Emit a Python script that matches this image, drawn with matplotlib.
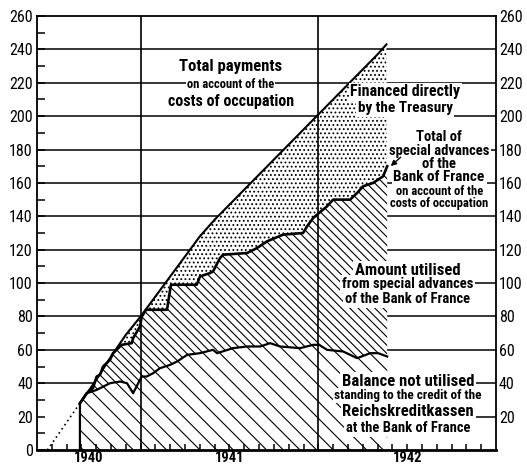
import numpy as np
import matplotlib
matplotlib.use("Agg")
import matplotlib.pyplot as plt
from matplotlib import font_manager

# pick a narrow face if one is installed, else plain Liberation Sans
names = set(f.name for f in font_manager.fontManager.ttflist)
narrow = 'Liberation Sans'
for cand in ['Liberation Sans Narrow', 'Roboto Condensed', 'DejaVu Sans Condensed',
             'Open Sans Condensed', 'Noto Sans Condensed']:
    if cand in names:
        narrow = cand
        break
stretch = 'normal'
if narrow == 'Liberation Sans':
    for f in font_manager.fontManager.ttflist:
        if f.name in ('DejaVu Sans', 'Noto Sans', 'Roboto', 'Open Sans') and \
                f.stretch in ('condensed', 'semi-condensed', 'extra-condensed'):
            narrow = f.name
            stretch = f.stretch
            break

plt.rcParams['hatch.linewidth'] = 0.8
plt.rcParams['font.family'] = [narrow, 'DejaVu Sans']
plt.rcParams['font.stretch'] = stretch

# x = months since 1 Jan 1940, y = milliards of francs
total_x = [7.9, 9.0, 10.0, 11.0, 12.0, 13.0, 14.0, 15.0, 16.0, 17.0, 18.0,
           19.0, 20.0, 21.0, 22.0, 23.0, 24.0, 25.0, 26.0, 27.0, 28.0, 28.6]
total_y = [28, 42, 56, 69, 80, 92, 104, 116, 128, 138, 147,
           156, 165, 174, 183, 192, 201, 210, 219, 228, 237, 243]

# dotted extension of the total line back to zero
extra_x = [5.7, 7.9]
extra_y = [0, 28]

adv_x = [7.9, 8.36, 8.78, 9.03, 9.26, 9.46, 9.93, 10.14, 10.72, 11.4, 11.49,
         11.96, 12.07, 12.16, 12.36, 13.78, 13.99, 14.05, 15.79, 16.01, 16.69,
         16.89, 17.36, 17.57, 19.19, 19.86, 20.54, 21.62, 22.97, 23.24, 23.65,
         24.05, 24.59, 25.0, 26.15, 26.62, 27.03, 27.7, 28.38, 28.65]
adv_y = [28, 34, 37, 44, 45, 50, 54, 58, 63, 64, 67,
         74, 80, 81, 84, 84, 96, 99, 99, 104, 106,
         107, 115, 117, 118, 121, 125, 129, 130, 134, 139,
         142, 146, 150, 150, 154, 158, 160, 164, 170]

bal_x = [7.9, 8.36, 9.03, 9.93, 10.61, 11.08, 11.49, 12.07, 12.41, 12.84, 13.31,
         13.99, 14.46, 15.14, 16.01, 16.89, 17.16, 18.24, 19.19, 20.07, 20.74,
         21.42, 22.77, 23.65, 24.05, 24.59, 25.68, 26.62, 27.5, 28.04, 28.65]
bal_y = [28, 34, 36, 40, 41, 40, 34, 44, 44, 46, 49,
         51, 53, 57, 58, 60, 58, 61, 62, 62, 64,
         62, 61, 63, 63, 60, 59, 55, 58, 58, 56]

start = 7.9
end = 28.65
year_lines = [12, 24]
year_labels = ['1940', '1941', '1942']
year_pos = [8.5, 18, 30]

fig = plt.figure(figsize=(5.27, 4.65), dpi=100)
ax = fig.add_axes([0.0702, 0.0323, 0.871, 0.9333])
ax.set_xlim(5, 36)
ax.set_ylim(0, 260)

# horizontal rules
for v in range(40, 260, 20):
    ax.axhline(v, color='black', lw=1.1, zorder=0.5)
ax.plot([end, 36], [20, 20], color='black', lw=1.1, zorder=0.5)

# stippled part: financed directly by the Treasury
ax.fill(total_x + adv_x[::-1], total_y + adv_y[::-1], facecolor='white',
        edgecolor='black', hatch='....', lw=0, zorder=1)
# amount utilised
ax.fill(adv_x + bal_x[::-1], adv_y + bal_y[::-1], facecolor='white',
        edgecolor='black', hatch='\\\\\\\\', lw=0, zorder=1)
# balance not utilised
ax.fill([start] + bal_x + [end], [0] + bal_y + [0], facecolor='white',
        edgecolor='black', hatch='\\\\', lw=0, zorder=1)

ax.plot(extra_x, extra_y, color='black', lw=1.2, ls=(0, (1, 2)), zorder=2)
ax.plot(total_x, total_y, color='black', lw=1.5, zorder=3)
ax.plot(adv_x, adv_y, color='black', lw=1.9, zorder=3)
ax.plot([start] + bal_x, [0] + bal_y, color='black', lw=1.6, zorder=3)

for xv in year_lines:
    ax.axvline(xv, color='black', lw=1.2, zorder=4)

# axes and ticks
for s in ['left', 'right', 'top']:
    ax.spines[s].set_linewidth(1.3)
ax.spines['bottom'].set_linewidth(2)
ax.set_yticks(range(0, 261, 20))
ax.set_yticks(range(10, 260, 20), minor=True)
ax.set_xticks([])
ax.set_xticks(range(6, 36), minor=True)
ax.tick_params(axis='y', which='both', direction='in', length=6, width=1.1,
               right=True, labelsize=11.5, pad=3)
ax.tick_params(axis='x', which='minor', direction='in', length=4, width=1.1)

ax2 = ax.twinx()
ax2.set_ylim(0, 260)
ax2.set_yticks(range(20, 261, 20))
ax2.tick_params(axis='y', direction='in', length=0, labelsize=11.5, pad=2)
ax2.spines[:].set_visible(False)

for lab, xp in zip(year_labels, year_pos):
    ax.text(xp, -0.018, lab, transform=ax.get_xaxis_transform(), ha='center',
            va='center', fontsize=10.5, weight='bold')


def label(x, y, s, size, pad=1.2):
    ax.text(x, y, s, ha='center', va='center', fontsize=size, weight='bold',
            bbox=dict(facecolor='white', edgecolor='none', pad=pad), zorder=6)


label(18.1, 230, 'Total payments', 12)
label(18.1, 218.7, 'on account of the', 9, pad=0.6)
label(18.1, 208.5, 'costs of occupation', 11.5)

label(29.86, 214.5, 'Financed directly', 11.5)
label(29.86, 204.9, 'by the Treasury', 11)

label(32.16, 187.5, 'Total of', 10.5)
label(32.16, 179.1, 'special advances', 10.5)
label(32.16, 171.4, 'of the', 10.5)
label(32.16, 163.6, 'Bank of France', 11)
label(32.16, 154.6, 'on account of the', 9, pad=0.6)
label(32.16, 147.6, 'costs of occupation', 9, pad=0.6)
ax.annotate('', xy=(28.75, 169), xytext=(29.7, 176.5),
            arrowprops=dict(arrowstyle='-|>', color='black', lw=1,
                            mutation_scale=8), zorder=6)

label(30.03, 107.8, 'Amount utilised', 12)
label(30.03, 99.5, 'from special advances', 10.5)
label(30.03, 90.5, 'of the Bank of France', 10.5)

label(30.07, 41.3, 'Balance not utilised', 12)
label(30.07, 32.4, 'standing to the credit of the', 9.5, pad=0.8)
label(30.07, 22.8, 'Reichskreditkassen', 12)
label(30.07, 13.2, 'at the Bank of France', 10.5)

fig.savefig('out.png', dpi=100)
